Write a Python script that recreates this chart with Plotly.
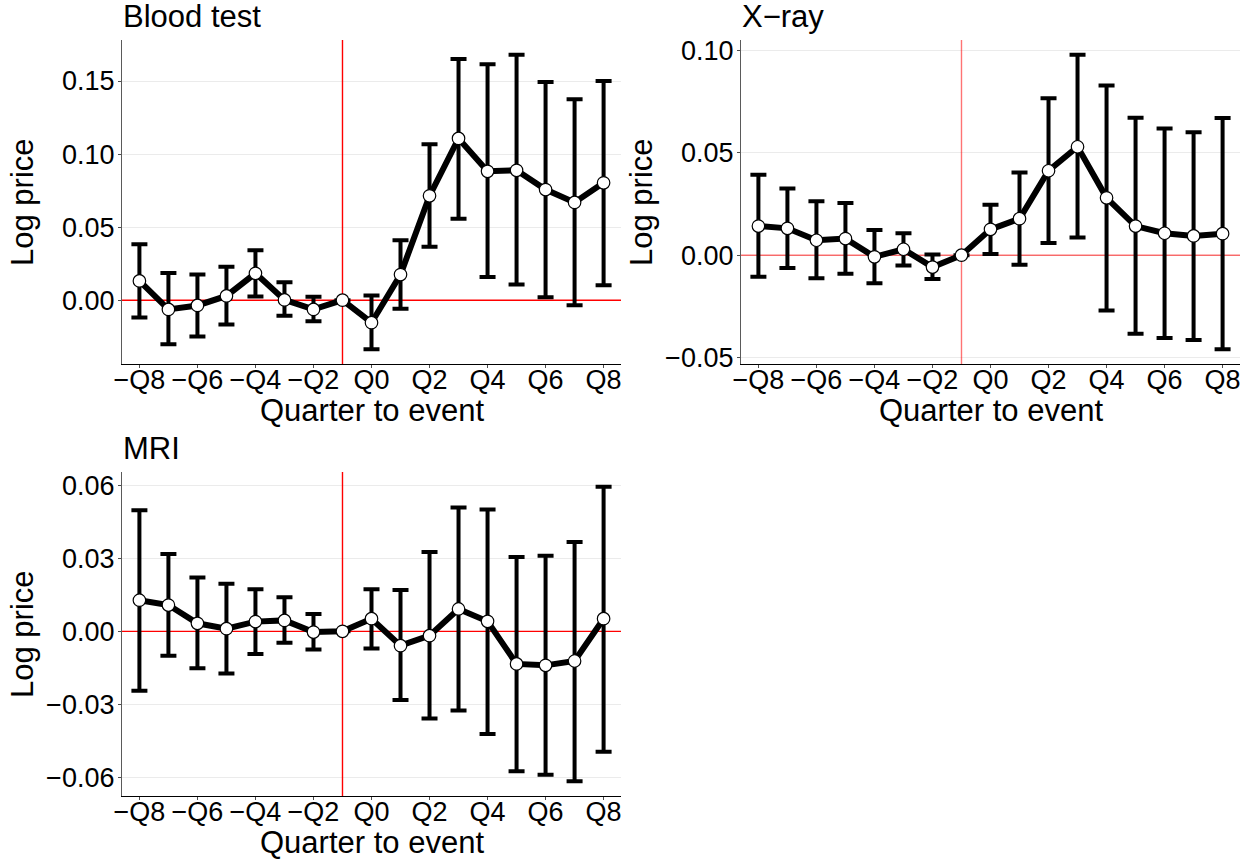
import plotly.graph_objects as go

quarters = list(range(-8, 9))
tick_vals = [-8, -6, -4, -2, 0, 2, 4, 6, 8]
tick_text = ["\u2212Q8", "\u2212Q6", "\u2212Q4", "\u2212Q2", "Q0", "Q2", "Q4", "Q6", "Q8"]

blood_est = [0.0132, -0.0063, -0.0036, 0.0029, 0.0184, 0.0002, -0.0063, 0.0, -0.0154, 0.0175,
             0.0714, 0.1107, 0.0882, 0.0889, 0.0757, 0.0669, 0.0803]
blood_hi = [0.0383, 0.0186, 0.0175, 0.0229, 0.0342, 0.0122, 0.0023, 0.0, 0.0032, 0.0410,
            0.1068, 0.1651, 0.1615, 0.1680, 0.1494, 0.1376, 0.1501]
blood_lo = [-0.0118, -0.0302, -0.0249, -0.0166, 0.0025, -0.0107, -0.0145, 0.0, -0.0336, -0.0059,
            0.0365, 0.0558, 0.0159, 0.0107, 0.0020, -0.0034, 0.0102]

xray_est = [0.0142, 0.0131, 0.0073, 0.0081, -0.0008, 0.0029, -0.0058, 0.0, 0.0126, 0.0178,
            0.0412, 0.0529, 0.0280, 0.0142, 0.0107, 0.0094, 0.0105]
xray_hi = [0.0393, 0.0325, 0.0263, 0.0255, 0.0123, 0.0107, 0.0003, 0.0, 0.0246, 0.0403,
           0.0766, 0.0978, 0.0828, 0.0671, 0.0618, 0.0600, 0.0669]
xray_lo = [-0.0105, -0.0063, -0.0113, -0.0091, -0.0137, -0.0050, -0.0116, 0.0, 0.0006, -0.0047,
           0.0060, 0.0086, -0.0270, -0.0383, -0.0404, -0.0414, -0.0459]

mri_est = [0.0128, 0.0108, 0.0033, 0.0011, 0.0040, 0.0045, -0.0003, 0.0, 0.0052, -0.0059,
           -0.0018, 0.0092, 0.0041, -0.0134, -0.0140, -0.0122, 0.0052]
mri_hi = [0.0498, 0.0318, 0.0222, 0.0196, 0.0173, 0.0140, 0.0071, 0.0, 0.0173, 0.0170,
          0.0326, 0.0510, 0.0501, 0.0306, 0.0311, 0.0368, 0.0595]
mri_lo = [-0.0245, -0.0100, -0.0152, -0.0174, -0.0093, -0.0047, -0.0075, 0.0, -0.0071, -0.0283,
          -0.0359, -0.0326, -0.0422, -0.0576, -0.0590, -0.0617, -0.0496]

y_ticks_blood = [0.0, 0.05, 0.10, 0.15]
y_ticks_xray = [-0.05, 0.0, 0.05, 0.10]
y_ticks_mri = [-0.06, -0.03, 0.0, 0.03, 0.06]

titles = ["Blood test", "X\u2212ray", "MRI"]
ref_quarter = -1
x_range = [-8.6, 8.6]

FONT = "Liberation Sans, Arial, Helvetica, sans-serif"
W, H = 1251, 860
TICK_SIZE = 27
TITLE_SIZE = 31

panels = [
    dict(est=blood_est, hi=blood_hi, lo=blood_lo, ticks=y_ticks_blood,
         box=(122, 621, 40, 364), red="#ff0000"),
    dict(est=xray_est, hi=xray_hi, lo=xray_lo, ticks=y_ticks_xray,
         box=(741, 1240, 40, 364), red="rgba(255,0,0,0.55)"),
    dict(est=mri_est, hi=mri_hi, lo=mri_lo, ticks=y_ticks_mri,
         box=(122, 621, 472, 796), red="#ff0000"),
]

fig = go.Figure()
layout = dict(
    width=W, height=H, autosize=False,
    margin=dict(l=0, r=0, t=0, b=0, pad=0, autoexpand=False),
    paper_bgcolor="white", plot_bgcolor="white",
    showlegend=False,
    font=dict(family=FONT, color="black"),
)
annotations = []

for i, p in enumerate(panels):
    n = "" if i == 0 else str(i + 1)
    xa, ya = "x" + n, "y" + n
    x0, x1, y0, y1 = p["box"]
    xd = [x0 / W, x1 / W]
    yd = [1 - y1 / H, 1 - y0 / H]
    lo_all = min(p["lo"])
    hi_all = max(p["hi"])
    pad = 0.05 * (hi_all - lo_all)
    yr = [lo_all - pad, hi_all + pad]
    err_plus = [h - e for h, e in zip(p["hi"], p["est"])]
    err_minus = [e - l for e, l in zip(p["est"], p["lo"])]

    # reference lines (drawn first so they sit under the data)
    fig.add_trace(go.Scatter(x=[ref_quarter, ref_quarter], y=yr, xaxis=xa, yaxis=ya,
                             mode="lines", line=dict(color=p["red"], width=1.4),
                             hoverinfo="skip"))
    fig.add_trace(go.Scatter(x=x_range, y=[0, 0], xaxis=xa, yaxis=ya,
                             mode="lines", line=dict(color=p["red"], width=1.4),
                             hoverinfo="skip"))

    fig.add_trace(go.Scatter(
        x=quarters, y=p["est"], xaxis=xa, yaxis=ya, mode="lines+markers",
        line=dict(color="black", width=6),
        marker=dict(size=12.5, color="white", line=dict(color="black", width=1.2)),
        error_y=dict(type="data", symmetric=False, array=err_plus, arrayminus=err_minus,
                     color="black", thickness=4, width=8),
        hoverinfo="skip",
    ))

    layout["xaxis" + n] = dict(
        domain=xd, anchor=ya, range=x_range,
        tickmode="array", tickvals=tick_vals, ticktext=tick_text,
        showgrid=False, zeroline=False,
        showline=True, linecolor="black", linewidth=1.3,
        ticks="outside", ticklen=3, tickcolor="#4d4d4d", tickwidth=1,
        ticklabelstandoff=-12,
        tickfont=dict(size=TICK_SIZE, family=FONT, color="black"),
    )
    layout["yaxis" + n] = dict(
        domain=yd, anchor=xa, range=yr,
        tickmode="array", tickvals=p["ticks"], tickformat=".2f",
        showgrid=True, gridcolor="#ebebeb", gridwidth=1, zeroline=False,
        showline=True, linecolor="#5a5a5a", linewidth=1.3,
        ticks="outside", ticklen=3, tickcolor="#4d4d4d", tickwidth=1,
        ticklabelstandoff=-2,
        tickfont=dict(size=TICK_SIZE, family=FONT, color="black"),
    )

    annotations.append(dict(
        text=titles[i], xref="paper", yref="paper", x=(x0 - 1) / W, y=1 - (y0 - 4) / H,
        xanchor="left", yanchor="bottom", showarrow=False,
        font=dict(size=TITLE_SIZE, family=FONT, color="black"),
    ))
    annotations.append(dict(
        text="Log price", xref="paper", yref="paper", x=(x0 - 100) / W, y=1 - ((y0 + y1) / 2) / H,
        xanchor="center", yanchor="middle", textangle=-90, showarrow=False,
        font=dict(size=TITLE_SIZE, family=FONT, color="black"),
    ))
    annotations.append(dict(
        text="Quarter to event", xref="paper", yref="paper", x=((x0 + x1) / 2) / W,
        y=1 - (y1 + 27) / H, xanchor="center", yanchor="top", showarrow=False,
        font=dict(size=TITLE_SIZE, family=FONT, color="black"),
    ))

layout["annotations"] = annotations
fig.update_layout(**layout)
fig.write_html("out.html", config={"displayModeBar": False},
               post_script="document.body.style.margin='0';")
